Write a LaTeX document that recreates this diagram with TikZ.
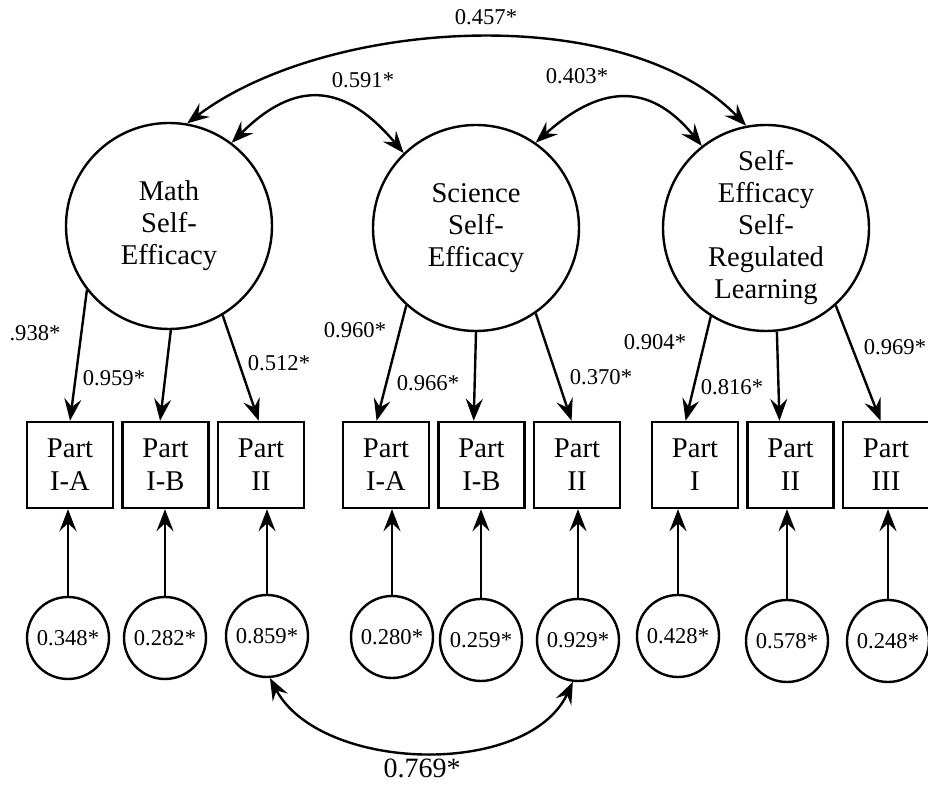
\documentclass[tikz,border=0pt]{standalone}
\usepackage{fontspec}
\setmainfont{Liberation Serif}
\usetikzlibrary{arrows.meta,positioning}
\tikzset{
factor/.style = {draw, circle, line width=1.2pt, minimum size=103pt, inner sep=0pt, align=center, font=\fontsize{14.3}{16}\selectfont},
block/.style  = {draw, rectangle, line width=1.2pt, minimum width=43pt, minimum height=43pt, inner sep=0pt, align=center, font=\fontsize{14.3}{16.5}\selectfont},
err/.style    = {draw, circle, line width=1.2pt, minimum size=41pt, inner sep=0pt, font=\fontsize{11.3}{13}\selectfont},
lbl/.style    = {inner sep=0pt, font=\fontsize{11.3}{13}\selectfont},
biglbl/.style = {inner sep=0pt, font=\fontsize{14}{16}\selectfont},
link/.style   = {->, line width=1.2pt},
corr/.style   = {<->, line width=1.2pt}
}

\begin{document}
\begin{tikzpicture}[x=0.5pt, y=0.5pt, node distance=47.75pt, >={Stealth[length=11pt,width=8.5pt,inset=4pt]}]
  \useasboundingbox (0,0) rectangle (928,787);

  % latent factors
  \node [factor] (fmath) at (169,561) {Math\\Self-\\Efficacy};
  \node [factor] (fsci)  at (476,559) {Science\\Self-\\Efficacy};
  \node [factor] (fsrl)  at (766,559) {Self-\\Efficacy\\Self-\\Regulated\\Learning};

  % indicators
  \node [block]                   (mA)   at (70,322)  {Part\\I-A};
  \node [block, right of=mA]      (mB)                {Part\\I-B};
  \node [block, right of=mB]      (mII)               {Part\\II};
  \node [block]                   (sA)   at (386,322) {Part\\I-A};
  \node [block, right of=sA]      (sB)                {Part\\I-B};
  \node [block, right of=sB]      (sII)               {Part\\II};
  \node [block]                   (rI)   at (695,322) {Part\\I};
  \node [block, right of=rI]      (rII)               {Part\\II};
  \node [block, right of=rII]     (rIII)              {Part\\III};

  % error terms
  \node [err] (eMA)   at (68,149)  {0.348*};
  \node [err] (eMB)   at (165,149) {0.282*};
  \node [err] (eMII)  at (267,151) {0.859*};
  \node [err] (eSA)   at (392,150) {0.280*};
  \node [err] (eSB)   at (481,147) {0.259*};
  \node [err] (eSII)  at (578,147) {0.929*};
  \node [err] (eRI)   at (678,151) {0.428*};
  \node [err] (eRII)  at (787,146) {0.578*};
  \node [err] (eRIII) at (888,146) {0.248*};

  % loadings
  \draw [link] (fmath.218) -- (mA.90);
  \draw [link] (fmath.271) -- (mB.97);
  \draw [link] (fmath.301) -- (mII.93);
  \draw [link] (fsci.228)  -- (sA.102);
  \draw [link] (fsci.270)  -- (sB.100);
  \draw [link] (fsci.305)  -- (sII.97);
  \draw [link] (fsrl.238)  -- (rI.102);
  \draw [link] (fsrl.276)  -- (rII.104);
  \draw [link] (fsrl.312)  -- (rIII.97);

  \node [lbl] (lmA)   at (35,454)  {.938*};
  \node [lbl] (lmB)   at (114,409) {0.959*};
  \node [lbl] (lmII)  at (279,424) {0.512*};
  \node [lbl] (lsA)   at (355,457) {0.960*};
  \node [lbl] (lsB)   at (428,404) {0.966*};
  \node [lbl] (lsII)  at (601,410) {0.370*};
  \node [lbl] (lrI)   at (655,445) {0.904*};
  \node [lbl] (lrII)  at (732,400) {0.816*};
  \node [lbl] (lrIII) at (895,440) {0.969*};

  % errors into indicators
  \foreach \e/\b in {eMA/mA, eMB/mB, eMII/mII, eSA/sA, eSB/sB, eSII/sII, eRI/rI, eRII/rII, eRIII/rIII}
    \draw [link] (\e) -- (\e |- \b.south);

  % correlations
  \draw [corr] (fmath.80) to [out=37, in=134, looseness=0.8]  (fsrl.101);
  \draw [corr] (fmath.53) to [out=45, in=130, looseness=1.35] (fsci.134);
  \draw [corr] (fsci.55)  to [out=42, in=129, looseness=1.3]  (fsrl.128);
  \draw [corr] (eMII.274) to [out=-62, in=245, looseness=0.9] (eSII.263);

  \node [lbl]    (c457) at (486,770) {0.457*};
  \node [lbl]    (c591) at (363,707) {0.591*};
  \node [lbl]    (c403) at (577,711) {0.403*};
  \node [biglbl] (c769) at (422,19)  {0.769*};
\end{tikzpicture}
\end{document}
